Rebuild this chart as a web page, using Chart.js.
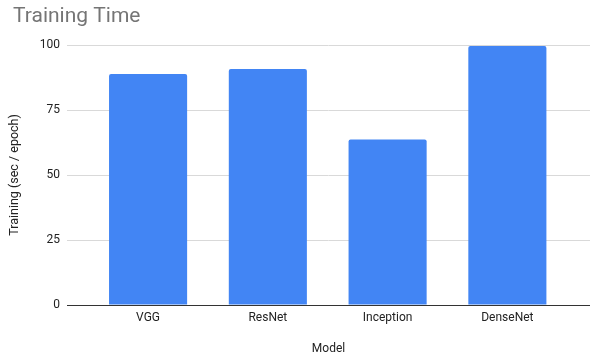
<!DOCTYPE html>
<html>
<head>
<meta charset="utf-8">
<script src="https://cdn.jsdelivr.net/npm/chart.js@4/dist/chart.umd.min.js"></script>
<style>
  html, body { margin: 0; padding: 0; background: #fff; }
  #wrap { width: 590px; height: 356px; position: relative; }
</style>
</head>
<body>
<div id="wrap"><canvas id="c"></canvas></div>
<script>
const categories = ['VGG', 'ResNet', 'Inception', 'DenseNet'];
const trainingTime = [88.8, 90.8, 63.7, 99.6];
const yTicks = [0, 25, 50, 75, 100];
const chartTitle = 'Training Time';
const xTitle = 'Model';
const yTitle = 'Training (sec / epoch)';

const points = categories.map((c, i) => ({ x: i, y: trainingTime[i] }));
const FONT = 'Roboto, Arial, "Liberation Sans", sans-serif';

new Chart(document.getElementById('c'), {
  type: 'bar',
  data: {
    datasets: [{
      data: points,
      backgroundColor: '#4285F4',
      borderWidth: 0,
      borderRadius: 2,
      borderSkipped: 'bottom',
      categoryPercentage: 1,
      barPercentage: 0.652
    }]
  },
  options: {
    responsive: true,
    maintainAspectRatio: false,
    animation: false,
    layout: { padding: { left: 13, right: 0, top: 0, bottom: 0 } },
    plugins: {
      legend: { display: false },
      tooltip: { enabled: false },
      title: {
        display: true,
        text: chartTitle,
        align: 'start',
        color: '#757575',
        font: { family: FONT, size: 21, weight: 'normal' },
        padding: { top: 4, bottom: 15.8 }
      }
    },
    scales: {
      x: {
        type: 'linear',
        offset: false,
        min: -0.677,
        max: 3.69,
        afterFit: (s) => { s.height = 51; },
        grid: { display: false, drawTicks: false },
        border: { display: true, color: '#333333', width: 1 },
        ticks: {
          stepSize: 1,
          includeBounds: false,
          padding: 6,
          color: '#222222',
          font: { family: FONT, size: 12 },
          callback: (v) => (Number.isInteger(v) && categories[v] !== undefined) ? categories[v] : ''
        },
        title: {
          display: true,
          text: xTitle,
          color: '#222222',
          font: { family: FONT, size: 12 },
          padding: { top: 0, bottom: 0 }
        }
      },
      y: {
        min: 0,
        max: 100,
        afterFit: (s) => { s.width = 54; },
        afterBuildTicks: (s) => { s.ticks = yTicks.map(v => ({ value: v })); },
        grid: { color: '#d9d9d9', drawTicks: false },
        border: { display: false },
        ticks: {
          padding: 7,
          color: '#222222',
          font: { family: FONT, size: 12 }
        },
        title: {
          display: true,
          text: yTitle,
          color: '#222222',
          font: { family: FONT, size: 12.5 },
          padding: { top: -5.2, bottom: 0 }
        }
      }
    }
  }
});
</script>
</body>
</html>
